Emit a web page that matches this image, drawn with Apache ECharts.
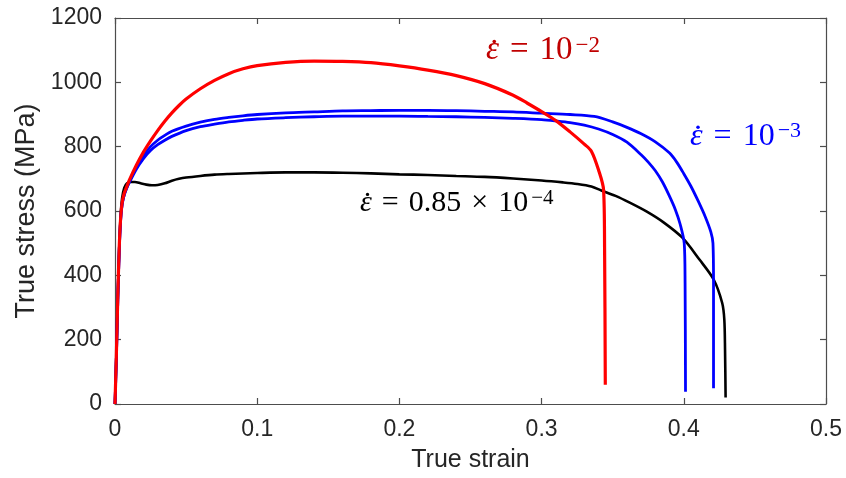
<!DOCTYPE html>
<html>
<head>
<meta charset="utf-8">
<script src="https://cdn.jsdelivr.net/npm/echarts@6/dist/echarts.min.js"></script>
<style>
  html, body { margin: 0; padding: 0; background: #fff; }
  #chart { width: 846px; height: 478px; }
</style>
</head>
<body>
<div id="chart"></div>
<script>
// [true strain, true stress (MPa)]
const rate1e2 = [
  [0, 0], [0.001, 160], [0.002, 340], [0.003, 490], [0.004, 580], [0.005, 625],
  [0.0065, 655], [0.0082, 675], [0.01, 695], [0.015, 742], [0.02, 783],
  [0.025, 818], [0.03, 850], [0.035, 879], [0.04, 905], [0.045, 928],
  [0.05, 948], [0.06, 980], [0.07, 1006], [0.08, 1027], [0.09, 1042],
  [0.10, 1052], [0.12, 1062], [0.14, 1066], [0.16, 1065], [0.18, 1061],
  [0.20, 1051], [0.22, 1038], [0.24, 1021], [0.26, 996], [0.28, 960],
  [0.29, 935], [0.30, 909], [0.31, 881], [0.32, 846], [0.33, 808],
  [0.335, 786], [0.34, 728], [0.3436, 665], [0.3443, 481], [0.3448, 60]
];
const rate1e3Upper = [
  [0, 0], [0.001, 150], [0.002, 330], [0.003, 480], [0.004, 575], [0.005, 620],
  [0.0065, 650], [0.0082, 672], [0.01, 690], [0.015, 735], [0.02, 772],
  [0.025, 800], [0.03, 820], [0.035, 835], [0.04, 848], [0.05, 864],
  [0.06, 876], [0.07, 885], [0.08, 891], [0.09, 896], [0.10, 900],
  [0.12, 905], [0.14, 908], [0.16, 911], [0.18, 912], [0.20, 913],
  [0.22, 913], [0.24, 912], [0.26, 910], [0.28, 908], [0.30, 904],
  [0.32, 900], [0.337, 894], [0.35, 877], [0.36, 860], [0.37, 840],
  [0.38, 815], [0.39, 780], [0.395, 752], [0.40, 716], [0.405, 677],
  [0.41, 632], [0.415, 583], [0.419, 535], [0.4205, 500], [0.4209, 377],
  [0.4209, 49]
];
const rate1e3Lower = [
  [0, 0], [0.001, 150], [0.002, 330], [0.003, 480], [0.004, 575], [0.005, 620],
  [0.0065, 650], [0.0082, 670], [0.01, 688], [0.015, 730], [0.02, 763],
  [0.025, 788], [0.03, 806], [0.035, 820], [0.04, 832], [0.05, 850],
  [0.06, 862], [0.07, 870], [0.08, 877], [0.09, 882], [0.10, 886],
  [0.12, 890], [0.14, 893], [0.16, 895], [0.18, 895], [0.20, 895],
  [0.22, 894], [0.24, 893], [0.26, 891], [0.28, 888], [0.30, 884],
  [0.31, 880], [0.32, 875], [0.33, 867], [0.34, 855], [0.35, 838],
  [0.36, 814], [0.37, 775], [0.375, 752], [0.38, 725], [0.385, 690],
  [0.3895, 650], [0.394, 605], [0.3975, 558], [0.4003, 500], [0.4009, 377],
  [0.4012, 38]
];
const rate085e4 = [
  [0, 0], [0.001, 160], [0.002, 340], [0.003, 490], [0.004, 590], [0.005, 640],
  [0.0065, 672], [0.0085, 686], [0.011, 690], [0.014, 690], [0.018, 686],
  [0.022, 682], [0.026, 680], [0.03, 681], [0.035, 686], [0.04, 694],
  [0.045, 700], [0.05, 704], [0.06, 709], [0.07, 713], [0.08, 715],
  [0.10, 718], [0.12, 720], [0.14, 720], [0.16, 719], [0.18, 717],
  [0.20, 714], [0.22, 712], [0.24, 709], [0.26, 706], [0.28, 701],
  [0.30, 695], [0.315, 689], [0.325, 684], [0.335, 676], [0.342, 664],
  [0.352, 647], [0.362, 626], [0.374, 598], [0.386, 564], [0.399, 517],
  [0.411, 449], [0.421, 387], [0.427, 314], [0.4285, 262], [0.429, 169],
  [0.4294, 20]
];
const xTicks = [0, 0.1, 0.2, 0.3, 0.4, 0.5];
const yTicks = [0, 200, 400, 600, 800, 1000, 1200];

const chart = echarts.init(document.getElementById('chart'));

const axisColor = '#262626';
const frameColor = '#4d4d4d';
const sansFont = "'Liberation Sans', Arial, sans-serif";
const serifFont = "'Liberation Serif', 'DejaVu Serif', serif";

function lineSeries(data, color, width) {
  return {
    type: 'line',
    data: data,
    showSymbol: false,
    smooth: 0.3,
    lineStyle: { color: color, width: width },
    z: 3
  };
}

// ε with a dot above, then "= ...10^sup"
function eqLabel(x, baseline, fs, color, main, sup) {
  const mid = baseline - 0.34 * fs;
  const pad = Math.round(fs * 0.33);
  const sfs = Math.round(fs * 0.7);
  return {
    type: 'group',
    children: [
      {
        type: 'text',
        x: x,
        y: mid,
        style: {
          text: '{e|ε}{op|=}' + main + '{s|' + sup + '}',
          fill: color,
          fontSize: fs,
          fontFamily: serifFont,
          verticalAlign: 'middle',
          lineHeight: fs,
          rich: {
            e: { fontSize: fs, fontStyle: 'italic', fontFamily: serifFont, fill: color, lineHeight: fs },
            op: { fontSize: fs, fontFamily: serifFont, fill: color, lineHeight: fs, padding: [0, pad] },
            s: { fontSize: sfs, fontFamily: serifFont, fill: color, verticalAlign: 'top', lineHeight: sfs, padding: [0, 0, 0, 3] }
          }
        }
      },
      {
        type: 'circle',
        shape: { cx: x + 0.25 * fs, cy: baseline - 0.62 * fs, r: Math.max(1.6, fs * 0.055) },
        style: { fill: color }
      }
    ]
  };
}

function frameAxis(extra) {
  return Object.assign({
    type: 'value',
    axisLine: { show: true, onZero: false, lineStyle: { color: frameColor, width: 1.2 } },
    axisTick: { show: true, inside: true, length: 6, lineStyle: { color: frameColor, width: 1.2 } },
    splitLine: { show: false }
  }, extra);
}

const opts = {
  animation: false,
  grid: { left: 115, right: 20, top: 18, bottom: 73, show: false },
  xAxis: [
    frameAxis({
      min: xTicks[0],
      max: xTicks[xTicks.length - 1],
      interval: 0.1,
      name: 'True strain',
      nameLocation: 'middle',
      nameGap: 44,
      nameTextStyle: { fontSize: 25, color: axisColor, fontFamily: sansFont },
      axisLabel: { fontSize: 23, color: axisColor, margin: 14, fontFamily: sansFont }
    }),
    frameAxis({
      position: 'top',
      min: xTicks[0],
      max: xTicks[xTicks.length - 1],
      interval: 0.1,
      axisLabel: { show: false }
    })
  ],
  yAxis: [
    frameAxis({
      min: yTicks[0],
      max: yTicks[yTicks.length - 1],
      interval: 200,
      name: 'True stress (MPa)',
      nameLocation: 'middle',
      nameGap: 72,
      nameTextStyle: { fontSize: 27, color: axisColor, fontFamily: sansFont },
      axisLabel: {
        fontSize: 23, color: axisColor, margin: 13, fontFamily: sansFont,
        formatter: (v) => String(v)
      }
    }),
    frameAxis({
      position: 'right',
      min: yTicks[0],
      max: yTicks[yTicks.length - 1],
      interval: 200,
      axisLabel: { show: false }
    })
  ],
  series: [
    lineSeries(rate085e4, '#000000', 2.6),
    lineSeries(rate1e3Lower, '#0000ff', 2.8),
    lineSeries(rate1e3Upper, '#0000ff', 2.8),
    lineSeries(rate1e2, '#ff0000', 3.2),
    // empty series so the top and right frame axes are drawn
    { type: 'line', data: [], xAxisIndex: 1, yAxisIndex: 1, showSymbol: false }
  ],
  graphic: [
    eqLabel(486, 62, 33, '#c00000', '10', '−2'),
    eqLabel(690, 147, 32, '#0000ff', '10', '−3'),
    eqLabel(360, 213, 30, '#000000', '0.85{op|×}10', '−4')
  ]
};

chart.setOption(opts);
</script>
</body>
</html>
